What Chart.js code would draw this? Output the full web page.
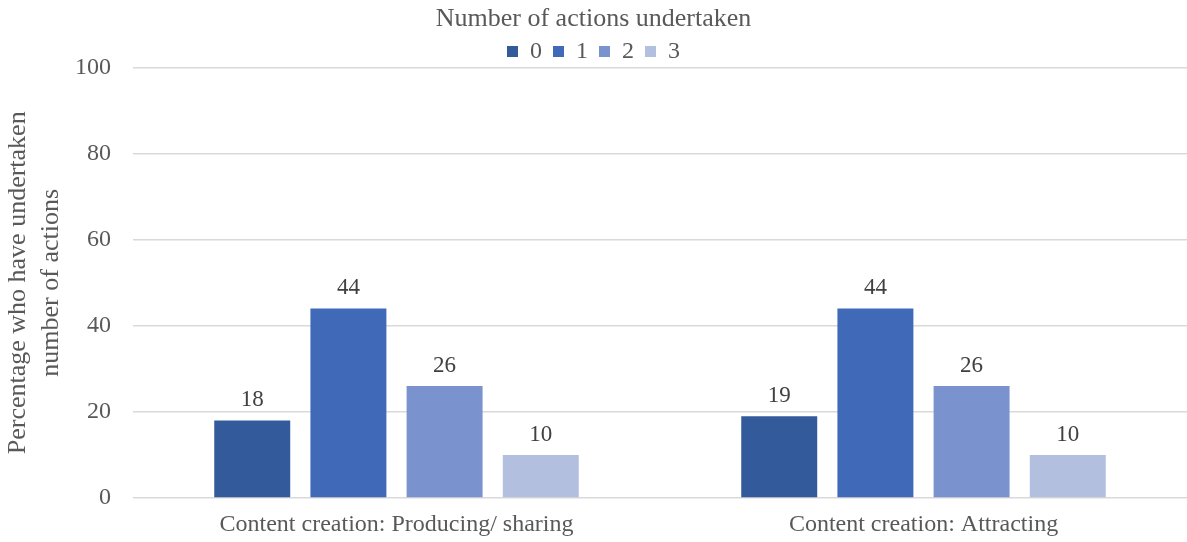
<!DOCTYPE html>
<html>
<head>
<meta charset="utf-8">
<script src="https://cdn.jsdelivr.net/npm/chart.js@4"></script>
<style>
  html, body { margin: 0; padding: 0; background: #fff; }
  #wrap { width: 1187px; height: 542px; }
</style>
</head>
<body>
<div id="wrap"><canvas id="chart"></canvas></div>
<script>
const categories = ['Content creation: Producing/ sharing', 'Content creation: Attracting'];
const seriesNames = ['0', '1', '2', '3'];
const actions0 = [18, 19];
const actions1 = [44, 44];
const actions2 = [26, 26];
const actions3 = [10, 10];
const colors = ['#335A9A', '#4069B8', '#7A93CE', '#B3BFDF'];

const seriesValues = [actions0, actions1, actions2, actions3];
const FONT = "'Liberation Serif', 'Times New Roman', serif";
const TEXT = '#595959';

// value labels above each bar
const barLabels = {
    id: 'barLabels',
    afterDatasetsDraw(chart) {
        const { ctx } = chart;
        ctx.save();
        ctx.font = `23px ${FONT}`;
        ctx.fillStyle = '#404040';
        ctx.textAlign = 'center';
        ctx.textBaseline = 'bottom';
        chart.data.datasets.forEach((ds, i) => {
            chart.getDatasetMeta(i).data.forEach((bar, j) => {
                ctx.fillText(ds.data[j], bar.x, bar.y - 9);
            });
        });
        ctx.restore();
    }
};

new Chart(document.getElementById('chart'), {
    type: 'bar',
    data: {
        labels: categories,
        datasets: seriesValues.map((vals, i) => ({
            label: seriesNames[i],
            data: vals,
            backgroundColor: colors[i],
            barPercentage: 0.79,
            categoryPercentage: 0.73
        }))
    },
    options: {
        responsive: true,
        maintainAspectRatio: false,
        animation: false,
        layout: { padding: 0 },
        plugins: {
            title: {
                display: true,
                text: 'Number of actions undertaken',
                color: TEXT,
                font: { family: FONT, size: 26, weight: 'normal', lineHeight: 1.1 },
                padding: { top: 5, bottom: -5 }
            },
            legend: {
                position: 'top',
                maxHeight: 39,
                labels: {
                    color: TEXT,
                    font: { family: FONT, size: 24 },
                    boxWidth: 11,
                    boxHeight: 11,
                    padding: 11
                }
            },
            tooltip: { enabled: false }
        },
        scales: {
            x: {
                grid: { display: false },
                border: { display: false },
                ticks: { color: TEXT, font: { family: FONT, size: 24 }, padding: 4 },
                afterFit(scale) { scale.height = 44; }
            },
            y: {
                min: 0,
                max: 100,
                ticks: { stepSize: 20, color: TEXT, font: { family: FONT, size: 24 }, padding: 22 },
                grid: { color: '#D9D9D9', lineWidth: 1.5, drawTicks: false },
                border: { display: false },
                title: {
                    display: true,
                    text: ['Percentage who have undertaken', 'number of actions'],
                    color: TEXT,
                    font: { family: FONT, size: 26, lineHeight: 1.25 },
                    padding: { top: 2, bottom: 0 }
                },
                afterFit(scale) { scale.width = 133; }
            }
        }
    },
    plugins: [barLabels]
});
</script>
</body>
</html>
